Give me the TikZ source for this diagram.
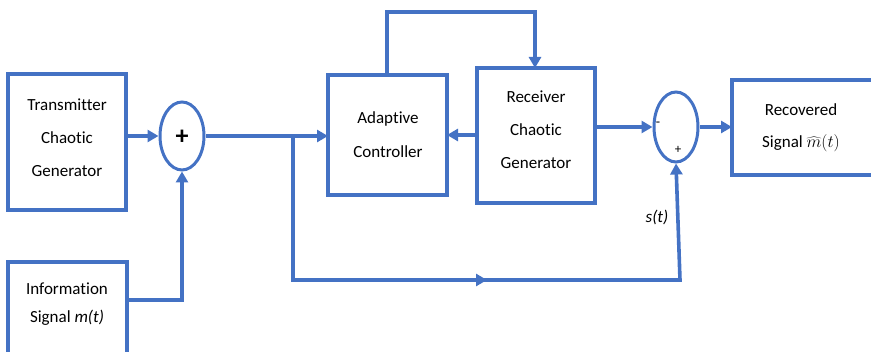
\documentclass[tikz,border=0pt]{standalone}
\usepackage{fontspec}
\setmainfont{Carlito}[Ligatures={NoCommon}]
\usetikzlibrary{arrows.meta,shapes.geometric}
\definecolor{wire}{HTML}{4472C4}
\begin{document}
\begin{tikzpicture}[x=1pt,y=-1pt,
  blk/.style={draw=wire,line width=3.6pt,fill=white},
  sumnode/.style={draw=wire,line width=3pt,ellipse,minimum width=44pt,minimum height=68pt,inner sep=0pt},
  lbl/.style={align=center,text=black,font=\fontsize{17}{33}\selectfont},
  wireline/.style={draw=wire,line width=3.6pt},
  arr/.style={wireline,-{Triangle[length=11pt,width=12pt]}}]
\useasboundingbox (0,0) rectangle (871,352);
% blocks
\draw[blk] (8,74) rectangle (126,210);
\node[lbl] (tx) at (67,138) {Transmitter\\Chaotic\\Generator};
\draw[blk] (8,262) rectangle (127,358);
\node[lbl,font=\fontsize{17}{28}\selectfont] (info) at (67,304) {Information\\Signal \textit{m(t)}};
\draw[blk] (328,75) rectangle (447,195);
\node[lbl,font=\fontsize{17}{34}\selectfont] (ctl) at (388,135) {Adaptive\\Controller};
\draw[blk] (477,68) rectangle (595,203);
\node[lbl] (rx) at (536,130) {Receiver\\Chaotic\\Generator};
\draw[blk] (732,80) rectangle (874,175);
\node[lbl] (rec1) at (801,110) {Recovered};
\node[lbl] (rec2) at (801,143) {Signal $\widehat{m}(t)$};
% summing junctions
\node[sumnode] (s1) at (182,136) {};
\node[font=\bfseries\fontsize{26}{26}\selectfont] (plus1) at (182,137) {+};
\node[sumnode,minimum height=70pt] (s2) at (676,127) {};
\node[font=\fontsize{14}{14}\selectfont] (minus2) at (658,124) {-};
\node[font=\fontsize{13}{13}\selectfont] (plus2) at (678,150) {+};
\node[font=\itshape\fontsize{17}{17}\selectfont] (st) at (657,217) {s(t)};
% coordinates of the wiring
\coordinate (txo) at (126,136);
\coordinate (info1) at (127,300);
\coordinate (info2) at (182,300);
\coordinate (br) at (293,136);
\coordinate (ctlin) at (328,136);
\coordinate (low1) at (293,280);
\coordinate (low2) at (680,280);
\coordinate (top1) at (387,75);
\coordinate (top2) at (387,12);
\coordinate (top3) at (535,12);
\coordinate (top4) at (535,68);
\coordinate (rxl) at (477,135);
\coordinate (ctlr) at (447,135);
\coordinate (rxr) at (595,127);
\coordinate (recl) at (732,127);
% connectors
\draw[arr] (txo) -- (s1.west);
\draw[arr] (info1) -- (info2) -- (s1.south);
\draw[arr] (s1.east) -- (ctlin);
\draw[arr] (br) -- (low1) -- (low2) -- (s2.south);
\draw[arr] (low1) -- (487,280);
\draw[arr] (top1) -- (top2) -- (top3) -- (top4);
\draw[arr] (rxl) -- (ctlr);
\draw[arr] (rxr) -- (s2.west);
\draw[arr] (s2.east) -- (recl);
\end{tikzpicture}
\end{document}
